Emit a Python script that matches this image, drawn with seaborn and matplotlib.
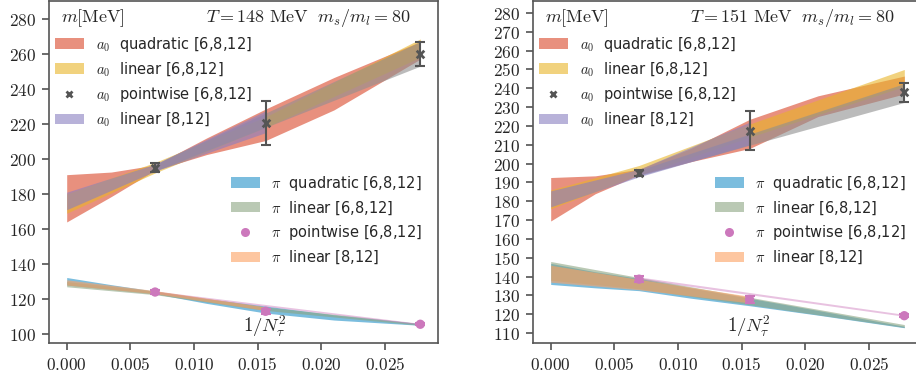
import matplotlib
matplotlib.use("Agg")
import numpy as np
import pandas as pd
import seaborn as sns
import matplotlib.pyplot as plt
from matplotlib.ticker import FuncFormatter, MultipleLocator
from matplotlib.lines import Line2D

sns.set_theme(style="ticks")
plt.rcParams["font.family"] = ["DejaVu Sans"]
plt.rcParams["mathtext.fontset"] = "cm"

# ---------------- x positions (1/N_tau^2) ----------------
x_pts = [1 / 144, 1 / 64, 1 / 36]
x_quad = [0.0, 0.0035, 0.00694, 0.011, 0.015625, 0.021, 0.02778]
x_lin = [0.0, 0.00694, 0.015625, 0.02778]
x_lin812 = [0.0, 0.00694, 0.015625]
x_pw = [0.00694, 0.02778]

# ---------------- left panel: T = 148 MeV ----------------
L_a0_quad_lo = [164, 178.5, 193.5, 202.5, 210.5, 228, 257]
L_a0_quad_hi = [191, 192.5, 196.5, 212, 228.5, 246.5, 267]
L_a0_lin_lo = [169, 192, 218, 258]
L_a0_lin_hi = [180, 198, 224, 268.5]
L_a0_pw_lo = [193, 253]
L_a0_pw_hi = [197, 267]
L_a0_812_lo = [171, 193, 215]
L_a0_812_hi = [181, 197, 227.5]
L_a0_pts = [195, 220.5, 260]
L_a0_err = [2.5, 12.5, 7]

L_pi_quad_lo = [128, 125.5, 123, 117.5, 112, 108, 105]
L_pi_quad_hi = [132.3, 128.2, 124.5, 120.2, 116, 111, 106]
L_pi_lin_lo = [127, 122.5, 113.5, 105]
L_pi_lin_hi = [130, 124.5, 115.5, 106]
L_pi_pw_lo = [123.3, 105.4]
L_pi_pw_hi = [124.6, 106.1]
L_pi_812_lo = [128, 123, 113.5]
L_pi_812_hi = [131, 124.8, 115.5]
L_pi_pts = [124, 113, 105.6]
L_pi_err = [1, 1.5, 0.6]

# ---------------- right panel: T = 151 MeV ----------------
R_a0_quad_lo = [169.5, 184, 194, 201, 208, 225, 237]
R_a0_quad_hi = [192.6, 193.5, 197, 208, 223.5, 236, 246.5]
R_a0_lin_lo = [176, 194, 214, 241]
R_a0_lin_hi = [186, 199, 221, 250]
R_a0_pw_lo = [193.5, 232.5]
R_a0_pw_hi = [196.5, 242.5]
R_a0_812_lo = [177, 193, 210]
R_a0_812_hi = [185.5, 197, 222]
R_a0_pts = [195, 217.5, 237.8]
R_a0_err = [1.5, 10.5, 5]

R_pi_quad_lo = [135.8, 134, 132.5, 128.5, 124.5, 119.5, 112.8]
R_pi_quad_hi = [147, 142.5, 139, 134, 128.5, 122, 113.6]
R_pi_lin_lo = [138, 133.5, 125, 113]
R_pi_lin_hi = [148, 139.5, 129, 114.5]
R_pi_pw_lo = [138.6, 118.9]
R_pi_pw_hi = [139.8, 119.9]
R_pi_812_lo = [137, 133, 126]
R_pi_812_hi = [146, 138.5, 129.5]
R_pi_pts = [138.6, 127.8, 119.2]
R_pi_err = [1.5, 2, 0.7]

titles = [r"$T = 148\ \mathrm{MeV}\ \ m_s/m_l = 80$", r"$T = 151\ \mathrm{MeV}\ \ m_s/m_l = 80$"]
a0_labels = [r"$a_0$  quadratic [6,8,12]", r"$a_0$  linear [6,8,12]",
             r"$a_0$  pointwise [6,8,12]", r"$a_0$  linear [8,12]"]
pi_labels = [r"$\pi$  quadratic [6,8,12]", r"$\pi$  linear [6,8,12]",
             r"$\pi$  pointwise [6,8,12]", r"$\pi$  linear [8,12]"]

C_A0Q = "#D94629"
C_A0L = "#E9B428"
C_A0PW = "#8f8f8f"
C_A0PT = "#555555"
C_A08 = "#897FC0"
C_PIQ = "#2392C8"
C_PIL = "#8CA582"
C_PIPW = "#CC78BC"
C_PI8 = "#FCA061"

fig = plt.figure(figsize=(9.16, 3.80), dpi=100)
W = 389 / 916
H = 343 / 380
ax_l = fig.add_axes([49 / 916, 37 / 380, W, H - 0.002])
ax_r = fig.add_axes([533 / 916, 37 / 380, W, H - 0.002])


def panel(ax, d, title, ylim, ystep):
    a = 0.6
    hq = ax.fill_between(x_quad, d["a0q_lo"], d["a0q_hi"], color=C_A0Q, alpha=a, lw=0)
    hl = ax.fill_between(x_lin, d["a0l_lo"], d["a0l_hi"], color=C_A0L, alpha=a, lw=0)
    ax.fill_between(x_pw, d["a0pw_lo"], d["a0pw_hi"], color=C_A0PW, alpha=a, lw=0)
    h8 = ax.fill_between(x_lin812, d["a08_lo"], d["a08_hi"], color=C_A08, alpha=a, lw=0)

    pq = ax.fill_between(x_quad, d["piq_lo"], d["piq_hi"], color=C_PIQ, alpha=a, lw=0)
    pl = ax.fill_between(x_lin, d["pil_lo"], d["pil_hi"], color=C_PIL, alpha=a, lw=0)
    ax.fill_between(x_pw, d["pipw_lo"], d["pipw_hi"], color=C_PIPW, alpha=0.45, lw=0)
    p8 = ax.fill_between(x_lin812, d["pi8_lo"], d["pi8_hi"], color=C_PI8, alpha=a, lw=0)

    df_a0 = pd.DataFrame({"x": x_pts, "y": d["a0_pts"]})
    df_pi = pd.DataFrame({"x": x_pts, "y": d["pi_pts"]})
    ax.errorbar(x_pts, d["a0_pts"], yerr=d["a0_err"], fmt="none", ecolor=C_A0PT,
                elinewidth=1.5, capsize=3.8, capthick=1.5, zorder=4)
    sns.scatterplot(data=df_a0, x="x", y="y", ax=ax, marker="x", s=30,
                    color=C_A0PT, linewidth=2, zorder=5, legend=False)
    ax.errorbar(x_pts, d["pi_pts"], yerr=d["pi_err"], fmt="none", ecolor=C_PIPW,
                elinewidth=1.5, capsize=3.8, capthick=1.5, zorder=4)
    sns.scatterplot(data=df_pi, x="x", y="y", ax=ax, marker="o", s=45,
                    color=C_PIPW, edgecolor="none", zorder=5, legend=False)

    hx = Line2D([], [], ls="none", marker="x", ms=5, mew=2, color=C_A0PT)
    ho = Line2D([], [], ls="none", marker="o", ms=6.5, color=C_PIPW, mec="none")

    leg1 = ax.legend([hq, hl, hx, h8], a0_labels,
                     loc="upper left", bbox_to_anchor=(0.0, 0.918), borderaxespad=0,
                     frameon=False, fontsize=10.5, handlelength=2.0, labelspacing=0.45)
    ax.add_artist(leg1)
    ax.legend([pq, pl, ho, p8], pi_labels,
              loc="upper left", bbox_to_anchor=(0.452, 0.512), borderaxespad=0,
              frameon=False, fontsize=10.5, handlelength=2.0, labelspacing=0.45)

    ax.text(0.032, 0.95, r"$m[\mathrm{MeV}]$", transform=ax.transAxes,
            ha="left", va="center", fontsize=13)
    ax.text(0.93, 0.95, title, transform=ax.transAxes, ha="right", va="center",
            fontsize=13)
    ax.text(0.556, 0.05, r"$1/N_\tau^2$", transform=ax.transAxes, ha="center",
            va="center", fontsize=13.5)

    ax.set_xlim(-0.00139, 0.02917)
    ax.set_ylim(*ylim)
    ax.xaxis.set_major_locator(MultipleLocator(0.005))
    ax.yaxis.set_major_locator(MultipleLocator(ystep))
    ax.xaxis.set_major_formatter(FuncFormatter(lambda v, p: f"${v:.3f}$"))
    ax.yaxis.set_major_formatter(FuncFormatter(lambda v, p: f"${v:.0f}$"))
    ax.tick_params(labelsize=12.5, length=5, width=1.1, color="#444444", pad=4)
    ax.set_xlabel("")
    ax.set_ylabel("")
    for s in ax.spines.values():
        s.set_color("#555555")
        s.set_linewidth(1.2)


dL = dict(a0q_lo=L_a0_quad_lo, a0q_hi=L_a0_quad_hi, a0l_lo=L_a0_lin_lo, a0l_hi=L_a0_lin_hi,
          a0pw_lo=L_a0_pw_lo, a0pw_hi=L_a0_pw_hi, a08_lo=L_a0_812_lo, a08_hi=L_a0_812_hi,
          a0_pts=L_a0_pts, a0_err=L_a0_err,
          piq_lo=L_pi_quad_lo, piq_hi=L_pi_quad_hi, pil_lo=L_pi_lin_lo, pil_hi=L_pi_lin_hi,
          pipw_lo=L_pi_pw_lo, pipw_hi=L_pi_pw_hi, pi8_lo=L_pi_812_lo, pi8_hi=L_pi_812_hi,
          pi_pts=L_pi_pts, pi_err=L_pi_err)
dR = dict(a0q_lo=R_a0_quad_lo, a0q_hi=R_a0_quad_hi, a0l_lo=R_a0_lin_lo, a0l_hi=R_a0_lin_hi,
          a0pw_lo=R_a0_pw_lo, a0pw_hi=R_a0_pw_hi, a08_lo=R_a0_812_lo, a08_hi=R_a0_812_hi,
          a0_pts=R_a0_pts, a0_err=R_a0_err,
          piq_lo=R_pi_quad_lo, piq_hi=R_pi_quad_hi, pil_lo=R_pi_lin_lo, pil_hi=R_pi_lin_hi,
          pipw_lo=R_pi_pw_lo, pipw_hi=R_pi_pw_hi, pi8_lo=R_pi_812_lo, pi8_hi=R_pi_812_hi,
          pi_pts=R_pi_pts, pi_err=R_pi_err)

panel(ax_l, dL, titles[0], (94.9, 290.3), 20)
panel(ax_r, dR, titles[1], (104.7, 286.5), 10)

fig.savefig("out.png", dpi=100)
